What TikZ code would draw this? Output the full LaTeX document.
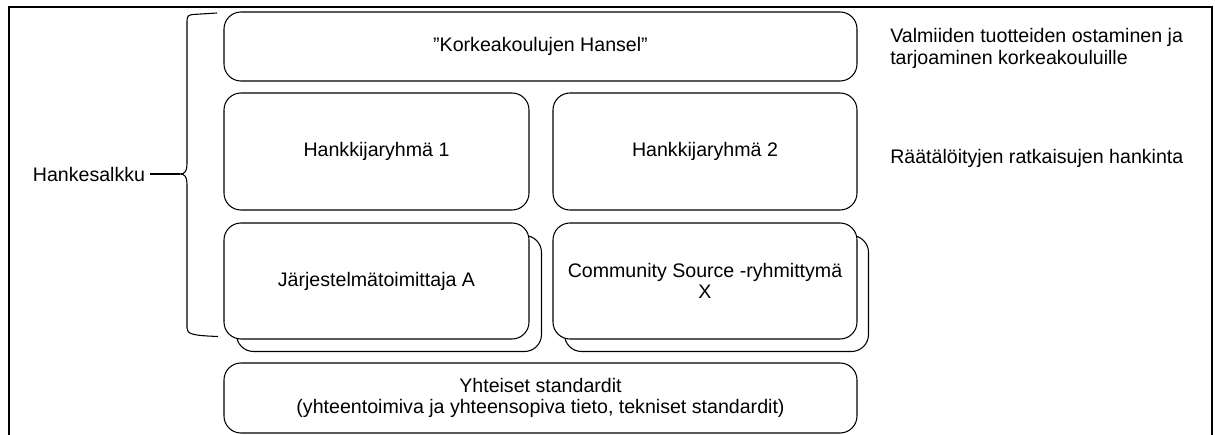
\documentclass[tikz,border=0pt]{standalone}
\usepackage{fontspec}
\setmainfont{Liberation Sans}
\newcommand{\diagfont}{\fontsize{14.7}{16.3}\selectfont}
\begin{document}
\begin{tikzpicture}[x=0.75pt,y=-0.75pt,
  box/.style={draw, line width=0.8pt, rounded corners=12.75pt, fill=white,
              align=center, font=\diagfont, inner sep=0pt},
  lbl/.style={font=\diagfont, align=left, inner sep=0pt},
  thinline/.style={line width=0.8pt},
  frameline/.style={line width=1.6pt}
]
\useasboundingbox (0,0) rectangle (1215,435);
% outer frame (open at the bottom)
\draw[frameline] (9,445) -- (9,7) -- (1212,7) -- (1212,445);

% boxes
\node[box, minimum width=474.75pt, minimum height=51.75pt] (hansel) at (540.5,46.5) {”Korkeakoulujen Hansel”};
\node[box, minimum width=228.75pt, minimum height=87.75pt] (h1) at (376.5,151.5) {Hankkijaryhmä 1};
\node[box, minimum width=228pt, minimum height=87.75pt] (h2) at (705,151.5) {Hankkijaryhmä 2};
\node[box, minimum width=228.75pt, minimum height=87pt] (jaback) at (389,293.5) {};
\node[box, minimum width=228.75pt, minimum height=87pt] (ja) at (376.5,281) {Järjestelmätoimittaja A};
\node[box, minimum width=228pt, minimum height=87pt] (csback) at (716.5,293.5) {};
\node[box, minimum width=228pt, minimum height=87pt] (cs) at (705,281) {Community Source -ryhmittymä\\X};
\node[box, minimum width=474.75pt, minimum height=52.5pt] (std) at (540.5,398) {Yhteiset standardit\\(yhteentoimiva ja yhteensopiva tieto, tekniset standardit)};

% right-hand labels
\node[lbl, anchor=north west] (valm) at (890,28.5) {Valmiiden tuotteiden ostaminen ja\\tarjoaminen korkeakouluille};
\node[lbl, anchor=base west] (raat) at (890,163) {Räätälöityjen ratkaisujen hankinta};

% brace and its label
\node[lbl, inner sep=3.75pt] (hs) at (89,174) {Hankesalkku};
\coordinate (tip) at (180,174);
\draw[thinline] (217,13) -- (193,14.5) .. controls (188.5,15) and (187,16) .. (187,21)
  -- (187,164) .. controls (187,171) and (185,174) .. (tip)
  .. controls (185,174) and (187,177) .. (187,184)
  -- (187,328) .. controls (187,334) and (192,335.5) .. (218,336.5);
\draw[thinline] (hs.east) -- (tip);
\end{tikzpicture}
\end{document}
